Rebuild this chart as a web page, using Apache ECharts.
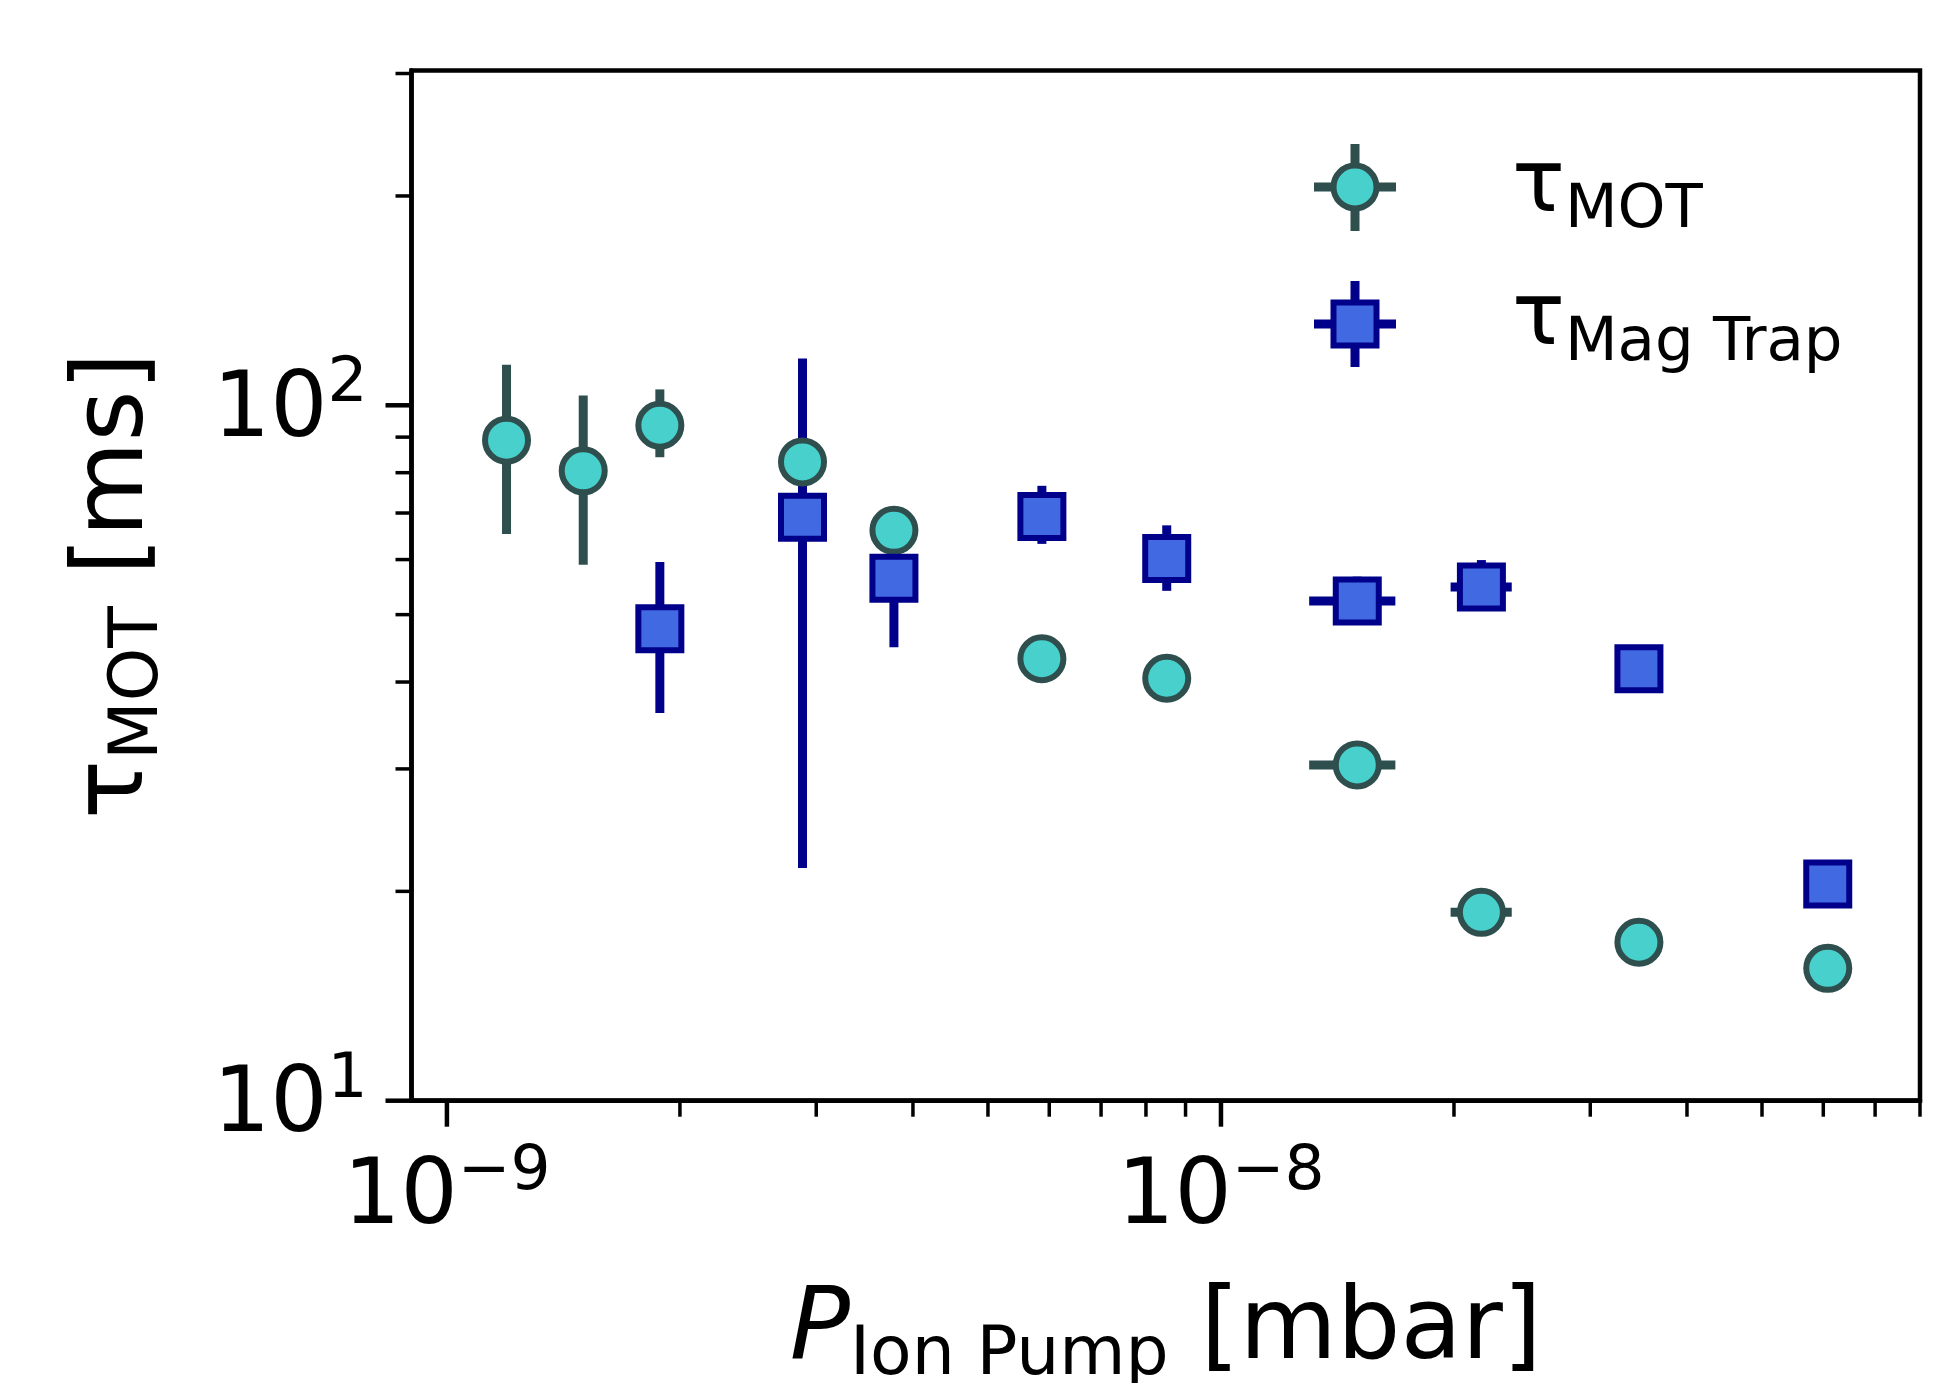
<!DOCTYPE html>
<html>
<head>
<meta charset="utf-8">
<script src="https://cdn.jsdelivr.net/npm/echarts@6/dist/echarts.min.js"></script>
<style>
  html, body { margin: 0; padding: 0; background: #fff; }
  #chart { width: 1937px; height: 1383px; }
</style>
</head>
<body>
<div id="chart"></div>
<script>
// ---------------- data ----------------
const pressure = [1.194e-9, 1.50e-9, 1.884e-9, 2.88e-9, 3.78e-9, 5.87e-9, 8.51e-9, 1.50e-8, 2.17e-8, 3.467e-8, 6.08e-8];

// tau_MOT [ms]
const tauMOT     = [89.1, 80.5, 93.6, 82.9, 66.1, 43.2, 40.5, 30.4, 18.66, 16.9, 15.5];
const tauMOTLow  = [65.3, 59.0, 84.2, 81.0, 64.8, 42.3, 39.7, 29.8, 18.3, 16.6, 15.2];
const tauMOTHigh = [114.4, 103.3, 105.4, 84.8, 67.4, 44.1, 41.3, 31.0, 19.0, 17.2, 15.8];
const pMOTLow    = [1.194e-9, 1.50e-9, 1.884e-9, 2.88e-9, 3.78e-9, 5.87e-9, 8.51e-9, 1.30e-8, 1.98e-8, 3.467e-8, 6.08e-8];
const pMOTHigh   = [1.194e-9, 1.50e-9, 1.884e-9, 2.88e-9, 3.78e-9, 5.87e-9, 8.51e-9, 1.68e-8, 2.375e-8, 3.467e-8, 6.08e-8];

// tau_Mag Trap [ms]  (measured at pressure[2..10])
const pressureMag = [1.884e-9, 2.88e-9, 3.78e-9, 5.87e-9, 8.51e-9, 1.50e-8, 2.17e-8, 3.467e-8, 6.08e-8];
const tauMag      = [47.7, 69.0, 56.4, 69.2, 60.2, 52.3, 54.8, 41.8, 20.5];
const tauMagLow   = [36.1, 21.6, 44.9, 63.2, 54.1, 48.6, 51.0, 41.0, 20.1];
const tauMagHigh  = [59.5, 116.8, 67.9, 76.6, 67.2, 56.7, 59.9, 42.6, 20.9];
const pMagLow     = [1.884e-9, 2.88e-9, 3.78e-9, 5.87e-9, 8.51e-9, 1.30e-8, 1.98e-8, 3.467e-8, 6.08e-8];
const pMagHigh    = [1.884e-9, 2.88e-9, 3.78e-9, 5.87e-9, 8.51e-9, 1.68e-8, 2.375e-8, 3.467e-8, 6.08e-8];

// axes
const xRange = [9e-10, 8e-8];
const yRange = [10, 303];
const xMajorTicks = [1e-9, 1e-8];
const xMinorTicks = [2e-9, 3e-9, 4e-9, 5e-9, 6e-9, 7e-9, 8e-9, 9e-9, 2e-8, 3e-8, 4e-8, 5e-8, 6e-8, 7e-8, 8e-8];
const yMajorTicks = [10, 100];
const yMinorTicks = [20, 30, 40, 50, 60, 70, 80, 90, 200, 300];

// ---------------- styling ----------------
const FONT = 'DejaVu Sans';
const MOT_FILL = '#48D1CC', MOT_EDGE = '#2F4F4F';
const MAG_FILL = '#4169E1', MAG_EDGE = '#00008B';

function powLabel(v) {
  const e = Math.log10(v);
  const r = Math.round(e);
  if (Math.abs(e - r) > 1e-6) return '';
  return '{b|10}{s|' + (r < 0 ? '\u2212' + (-r) : String(r)) + '}';
}
const tickRich = {
  b: { fontFamily: FONT, fontSize: 90, color: '#000', verticalAlign: 'top', padding: [14, 0, 0, 0] },
  s: { fontFamily: FONT, fontSize: 63, color: '#000', verticalAlign: 'top' }
};

function errRender(color) {
  return function (params, api) {
    const x = api.value(0), y = api.value(1);
    const ylo = api.value(2), yhi = api.value(3), xlo = api.value(4), xhi = api.value(5);
    const children = [];
    if (yhi > ylo) {
      const a = api.coord([x, ylo]), b = api.coord([x, yhi]);
      children.push({ type: 'line', shape: { x1: a[0], y1: a[1], x2: b[0], y2: b[1] },
        style: { stroke: color, lineWidth: 9 } });
    }
    if (xhi > xlo) {
      const a = api.coord([xlo, y]), b = api.coord([xhi, y]);
      children.push({ type: 'line', shape: { x1: a[0], y1: a[1], x2: b[0], y2: b[1] },
        style: { stroke: color, lineWidth: 9 } });
    }
    return { type: 'group', children: children };
  };
}

function xTickRender(len, w) {
  return function (params, api) {
    const c = api.coord([api.value(0), api.value(1)]);
    return { type: 'line', shape: { x1: c[0], y1: c[1], x2: c[0], y2: c[1] + len },
      style: { stroke: '#000', lineWidth: w } };
  };
}
function yTickRender(len, w) {
  return function (params, api) {
    const c = api.coord([api.value(0), api.value(1)]);
    return { type: 'line', shape: { x1: c[0] - len, y1: c[1], x2: c[0], y2: c[1] },
      style: { stroke: '#000', lineWidth: w } };
  };
}

const motErrData = pressure.map((p, i) => [p, tauMOT[i], tauMOTLow[i], tauMOTHigh[i], pMOTLow[i], pMOTHigh[i]]);
const magErrData = pressureMag.map((p, i) => [p, tauMag[i], tauMagLow[i], tauMagHigh[i], pMagLow[i], pMagHigh[i]]);

const chart = echarts.init(document.getElementById('chart'), null, { renderer: 'canvas' });

const legendRich = {
  t: { fontFamily: FONT, fontSize: 88, color: '#000', verticalAlign: 'top' },
  s: { fontFamily: FONT, fontSize: 61, color: '#000', verticalAlign: 'top', padding: [37, 0, 0, 0] }
};

chart.setOption({
  animation: false,
  backgroundColor: '#fff',
  grid: {
    left: 411.5, top: 70.5, width: 1508.5, height: 1030.2,
    show: true, borderColor: '#000', borderWidth: 4.5, backgroundColor: 'transparent',
    containLabel: false, outerBoundsMode: 'none'
  },
  xAxis: {
    type: 'log', logBase: 10, min: xRange[0], max: xRange[1],
    axisLine: { show: true, lineStyle: { color: '#000', width: 4.5 } },
    axisTick: { show: false },
    minorTick: { show: false },
    splitLine: { show: false },
    axisLabel: { margin: 40, formatter: powLabel, rich: tickRich, showMinLabel: true, showMaxLabel: true, hideOverlap: false },
    name: '{p|P}{s|Ion Pump}{t| [mbar]}',
    nameLocation: 'middle',
    nameGap: 181,
    nameTextStyle: {
      rich: {
        p: { fontFamily: FONT, fontSize: 100, fontStyle: 'italic', color: '#000', verticalAlign: 'top' },
        s: { fontFamily: FONT, fontSize: 68, color: '#000', verticalAlign: 'top', padding: [41, 0, 0, 0] },
        t: { fontFamily: FONT, fontSize: 100, color: '#000', verticalAlign: 'top' }
      }
    }
  },
  yAxis: {
    type: 'log', logBase: 10, min: yRange[0], max: yRange[1],
    axisLine: { show: true, lineStyle: { color: '#000', width: 4.5 } },
    axisTick: { show: false },
    minorTick: { show: false },
    splitLine: { show: false },
    axisLabel: { margin: 44, formatter: powLabel, rich: tickRich, showMinLabel: true, showMaxLabel: true, hideOverlap: false },
    name: '{t|\u03C4}{s|MOT}{t| [ms]}',
    nameLocation: 'middle',
    nameRotate: 90,
    nameGap: 238,
    nameTextStyle: {
      rich: {
        t: { fontFamily: FONT, fontSize: 98, color: '#000', verticalAlign: 'top' },
        s: { fontFamily: FONT, fontSize: 68, color: '#000', verticalAlign: 'top', padding: [38, 0, 0, 0] }
      }
    }
  },
  graphic: [
    { type: 'line', z: 10, shape: { x1: 1314, y1: 187, x2: 1396, y2: 187 }, style: { stroke: MOT_EDGE, lineWidth: 9 } },
    { type: 'line', z: 10, shape: { x1: 1355, y1: 144, x2: 1355, y2: 231 }, style: { stroke: MOT_EDGE, lineWidth: 9 } },
    { type: 'circle', z: 11, shape: { cx: 1355, cy: 187, r: 21.5 }, style: { fill: MOT_FILL, stroke: MOT_EDGE, lineWidth: 6 } },
    { type: 'text', z: 11, x: 1512, y: 144, style: { text: '{t|\u03C4}{s|MOT}', rich: legendRich, verticalAlign: 'top', align: 'left' } },
    { type: 'line', z: 10, shape: { x1: 1314, y1: 324, x2: 1396, y2: 324 }, style: { stroke: MAG_EDGE, lineWidth: 9 } },
    { type: 'line', z: 10, shape: { x1: 1355, y1: 281, x2: 1355, y2: 367 }, style: { stroke: MAG_EDGE, lineWidth: 9 } },
    { type: 'rect', z: 11, shape: { x: 1333.5, y: 302.5, width: 43, height: 43 }, style: { fill: MAG_FILL, stroke: MAG_EDGE, lineWidth: 6 } },
    { type: 'text', z: 11, x: 1512, y: 277, style: { text: '{t|\u03C4}{s|Mag Trap}', rich: legendRich, verticalAlign: 'top', align: 'left' } }
  ],
  series: [
    { type: 'custom', name: 'motErr', renderItem: errRender(MOT_EDGE), data: motErrData, z: 2, silent: true,
      encode: { x: [0, 4, 5], y: [1, 2, 3] } },
    { type: 'custom', name: 'magErr', renderItem: errRender(MAG_EDGE), data: magErrData, z: 2, silent: true,
      encode: { x: [0, 4, 5], y: [1, 2, 3] } },
    { type: 'scatter', name: '\u03C4_MOT', data: pressure.map((p, i) => [p, tauMOT[i]]), z: 3,
      symbol: 'circle', symbolSize: 43,
      itemStyle: { color: MOT_FILL, borderColor: MOT_EDGE, borderWidth: 6, opacity: 1 } },
    { type: 'scatter', name: '\u03C4_Mag Trap', data: pressureMag.map((p, i) => [p, tauMag[i]]), z: 4,
      symbol: 'rect', symbolSize: 43,
      itemStyle: { color: MAG_FILL, borderColor: MAG_EDGE, borderWidth: 6, opacity: 1 } },
    { type: 'custom', renderItem: xTickRender(26, 4.5), data: xMajorTicks.map(v => [v, yRange[0]]), z: 5, silent: true, clip: false },
    { type: 'custom', renderItem: xTickRender(16, 3.5), data: xMinorTicks.map(v => [v, yRange[0]]), z: 5, silent: true, clip: false },
    { type: 'custom', renderItem: yTickRender(26, 4.5), data: yMajorTicks.map(v => [xRange[0], v]), z: 5, silent: true, clip: false },
    { type: 'custom', renderItem: yTickRender(16, 3.5), data: yMinorTicks.map(v => [xRange[0], v]), z: 5, silent: true, clip: false }
  ]
});
</script>
</body>
</html>
